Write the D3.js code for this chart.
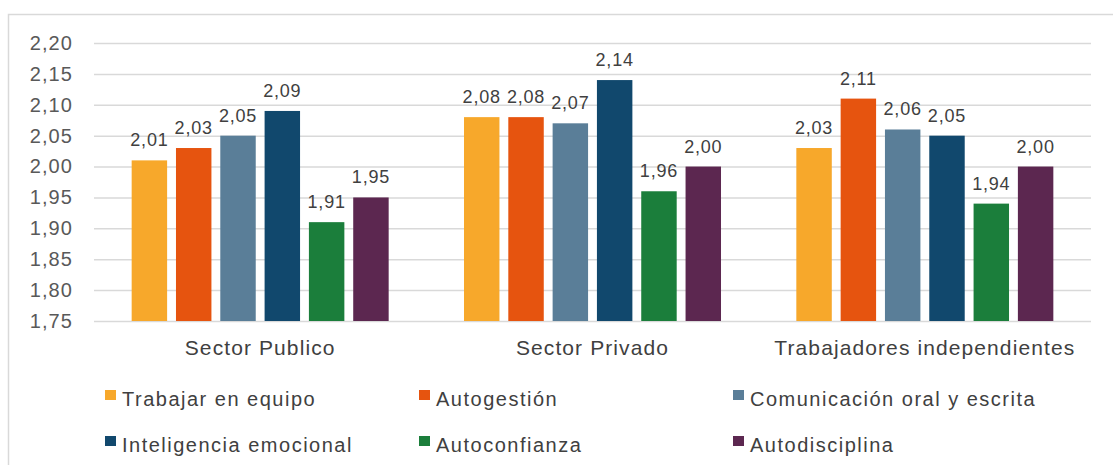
<!DOCTYPE html>
<html>
<head>
<meta charset="utf-8">
<script src="https://cdn.jsdelivr.net/npm/d3@7"></script>
<style>
  body { margin: 0; background: #fff; }
  text { font-family: "Liberation Sans", Arial, sans-serif; }
</style>
</head>
<body>
<div id="chart"></div>
<script>
// Data
const groups = ["Sector Publico", "Sector Privado", "Trabajadores independientes"];
const series = ["Trabajar en equipo", "Autogestión", "Comunicación oral y escrita",
                "Inteligencia emocional", "Autoconfianza", "Autodisciplina"];
const colors = ["#F7A82B", "#E6540F", "#5A7E98", "#11486D", "#1B7E3B", "#5C2750"];
const values = [
  [2.01, 2.03, 2.05, 2.09, 1.91, 1.95],
  [2.08, 2.08, 2.07, 2.14, 1.96, 2.00],
  [2.03, 2.11, 2.06, 2.05, 1.94, 2.00]
];
const yTicks = [1.75, 1.80, 1.85, 1.90, 1.95, 2.00, 2.05, 2.10, 2.15, 2.20];

const width = 1113, height = 465;
const plot = { left: 94, right: 1091, top: 43, bottom: 321 };
const fmt = v => d3.format(".2f")(v).replace(".", ",");

const svg = d3.select("#chart").append("svg")
  .attr("width", width).attr("height", height);

// outer frame
svg.append("rect")
  .attr("x", 8.5).attr("y", 14.5)
  .attr("width", 1120).attr("height", 480)
  .attr("fill", "none").attr("stroke", "#d9d9d9").attr("stroke-width", 1.5);

const y = d3.scaleLinear().domain([1.75, 2.20]).range([plot.bottom, plot.top]);
const x0 = d3.scaleBand().domain(groups).range([plot.left, plot.right])
  .paddingInner(0.2).paddingOuter(0.1);
const x1 = d3.scaleBand().domain(series).range([0, x0.bandwidth()])
  .paddingInner(0.2).paddingOuter(0.1);

// y axis with gridlines
const yAxis = svg.append("g")
  .attr("transform", `translate(${plot.left},0)`)
  .call(d3.axisLeft(y).tickValues(yTicks).tickFormat(fmt)
    .tickSize(-(plot.right - plot.left)).tickPadding(21));
yAxis.select(".domain").remove();
yAxis.selectAll(".tick line").attr("stroke", "#d9d9d9").attr("stroke-width", 1.5);
yAxis.selectAll(".tick text")
  .attr("fill", "#595959")
  .style("font-size", "20px")
  .style("letter-spacing", "1.1px");

// bars
const g = svg.selectAll("g.group")
  .data(groups)
  .join("g")
  .attr("class", "group")
  .attr("transform", d => `translate(${x0(d)},0)`);

g.selectAll("rect")
  .data((d, i) => values[i].map((v, j) => ({ s: series[j], v, c: colors[j] })))
  .join("rect")
  .attr("x", d => x1(d.s))
  .attr("y", d => y(d.v))
  .attr("width", x1.bandwidth())
  .attr("height", d => y(1.75) - y(d.v))
  .attr("fill", d => d.c);

g.selectAll("text.val")
  .data((d, i) => values[i].map((v, j) => ({ s: series[j], v })))
  .join("text")
  .attr("class", "val")
  .attr("x", d => x1(d.s) + x1.bandwidth() / 2)
  .attr("y", d => y(d.v) - 14)
  .attr("text-anchor", "middle")
  .attr("fill", "#404040")
  .style("font-size", "18px")
  .style("letter-spacing", "0.8px")
  .text(d => fmt(d.v));

// category labels
svg.selectAll("text.cat")
  .data(groups)
  .join("text")
  .attr("class", "cat")
  .attr("x", d => x0(d) + x0.bandwidth() / 2)
  .attr("y", 355)
  .attr("text-anchor", "middle")
  .attr("fill", "#404040")
  .style("font-size", "21px")
  .style("letter-spacing", "1.1px")
  .text(d => d);

// legend, 3 columns x 2 rows
const legendCols = [105, 419, 733];
const legendRows = [399, 445];
const lg = svg.selectAll("g.legend")
  .data(series)
  .join("g")
  .attr("class", "legend")
  .attr("transform", (d, i) => `translate(${legendCols[i % 3]},${legendRows[Math.floor(i / 3)]})`);

lg.append("rect")
  .attr("x", 0).attr("y", -9)
  .attr("width", 11).attr("height", 10)
  .attr("fill", (d, i) => colors[i]);

lg.append("text")
  .attr("x", 17).attr("y", 0)
  .attr("dy", "0.33em")
  .attr("fill", "#404040")
  .style("font-size", "20px")
  .style("letter-spacing", "1.5px")
  .text(d => d);
</script>
</body>
</html>
